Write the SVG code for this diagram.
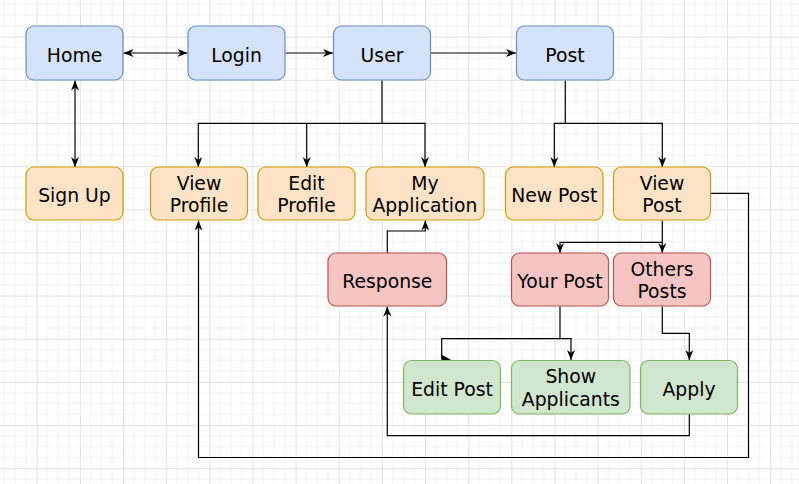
<svg xmlns="http://www.w3.org/2000/svg" width="799" height="484" viewBox="0 0 799 484">
<defs>
  <pattern id="grid" patternUnits="userSpaceOnUse" x="36.7" y="36.7" width="43.15" height="43.15">
    <path d="M10.79 0V43.15M21.58 0V43.15M32.36 0V43.15M0 10.79H43.15M0 21.58H43.15M0 32.36H43.15" stroke="#f1f1f1" stroke-width="1" fill="none"/>
    <path d="M0.5 0V43.15M0 0.5H43.15" stroke="#e2e2e2" stroke-width="1" fill="none"/>
  </pattern>
  <marker id="arr" markerUnits="userSpaceOnUse" markerWidth="10" markerHeight="9" viewBox="0 0 10 8" refX="10" refY="4" orient="auto-start-reverse">
    <path d="M0,0 L10,4 L0,8 L3,4 Z" fill="#000"/>
  </marker>
  <style>
    .box{stroke-width:1.2}
    .blue{fill:#d4e3fa;stroke:#6c8ebf}
    .orange{fill:#ffe3c6;stroke:#d79b00}
    .red{fill:#f6c5c3;stroke:#b85450}
    .green{fill:#d0e6cf;stroke:#82b366}
    text{font-family:"DejaVu Sans","Verdana",sans-serif;font-size:18.8px;fill:#000;text-anchor:middle}
    .c{fill:none;stroke:#000;stroke-width:1.2}
  </style>
</defs>
<rect width="799" height="484" fill="#fff"/>
<rect width="799" height="484" fill="url(#grid)"/>

<g id="connectors">
  <path class="c" d="M123.5 53H187.5" marker-start="url(#arr)" marker-end="url(#arr)"/>
  <path class="c" d="M285.5 53H333" marker-end="url(#arr)"/>
  <path class="c" d="M431 53H516" marker-end="url(#arr)"/>
  <path class="c" d="M75 80.5V167" marker-start="url(#arr)" marker-end="url(#arr)"/>
  <path class="c" d="M382 80.5V123.3H198.3V167" marker-end="url(#arr)"/>
  <path class="c" d="M306.7 123.3V167" marker-end="url(#arr)"/>
  <path class="c" d="M382 123.3H425V167" marker-end="url(#arr)"/>
  <path class="c" d="M565.3 80.5V123.3H554.3V167" marker-end="url(#arr)"/>
  <path class="c" d="M565.3 123.3H662.3V167" marker-end="url(#arr)"/>
  <path class="c" d="M662.3 220.5V242.3H560V253" marker-end="url(#arr)"/>
  <path class="c" d="M662.3 242.3V253" marker-end="url(#arr)"/>
  <path class="c" d="M711 193.3H748.5V457.5H198.5V220.5" marker-end="url(#arr)"/>
  <path class="c" d="M560 306.5V338.7H571V360" marker-end="url(#arr)"/>
  <path class="c" d="M560 338.7H441.7V359"/>
  <path d="M441.5 354.5L452 360.5L441.5 361Z" fill="#000"/>
  <path class="c" d="M662.3 306.5V333.3H689.3V360" marker-end="url(#arr)"/>
  <path class="c" d="M689.3 414V435.7H387.3V306.5" marker-end="url(#arr)"/>
  <path class="c" d="M387.3 253V231H425.3V220.5" marker-end="url(#arr)"/>
</g>

<g id="home"><rect class="box blue" x="26" y="26" width="97" height="54" rx="8"/><text x="74.5" y="61.7">Home</text></g>
<g id="login"><rect class="box blue" x="188" y="26" width="97" height="54" rx="8"/><text x="236.5" y="61.7">Login</text></g>
<g id="user"><rect class="box blue" x="333.5" y="26" width="97" height="54" rx="8"/><text x="382" y="61.7">User</text></g>
<g id="post"><rect class="box blue" x="516.5" y="26" width="97" height="54" rx="8"/><text x="565" y="61.7">Post</text></g>

<g id="signup"><rect class="box orange" x="26" y="167" width="97" height="53" rx="8"/><text x="74.5" y="202">Sign Up</text></g>
<g id="viewprofile"><rect class="box orange" x="150.5" y="167" width="97" height="53" rx="8"/><text x="199" y="189.5">View</text><text x="199" y="212">Profile</text></g>
<g id="editprofile"><rect class="box orange" x="258" y="167" width="97" height="53" rx="8"/><text x="306.5" y="189.5">Edit</text><text x="306.5" y="212">Profile</text></g>
<g id="myapplication"><rect class="box orange" x="366" y="167" width="118" height="53" rx="8"/><text x="425" y="189.5">My</text><text x="425" y="212">Application</text></g>
<g id="newpost"><rect class="box orange" x="505.5" y="167" width="97.5" height="53" rx="8"/><text x="554.3" y="202">New Post</text></g>
<g id="viewpost"><rect class="box orange" x="613.5" y="167" width="97" height="53" rx="8"/><text x="662" y="189.5">View</text><text x="662" y="212">Post</text></g>

<g id="response"><rect class="box red" x="328" y="253" width="118.5" height="53" rx="8"/><text x="387.3" y="288">Response</text></g>
<g id="yourpost"><rect class="box red" x="511.5" y="253" width="97" height="53" rx="8"/><text x="560" y="288">Your Post</text></g>
<g id="otherposts"><rect class="box red" x="613.5" y="253" width="97" height="53" rx="8"/><text x="662" y="275.7">Others</text><text x="662" y="298.3">Posts</text></g>

<g id="editpost"><rect class="box green" x="403.5" y="360.5" width="97" height="53.5" rx="8"/><text x="452" y="395.5">Edit Post</text></g>
<g id="showapplicants"><rect class="box green" x="511.5" y="360.5" width="118.5" height="53.5" rx="8"/><text x="570.8" y="383">Show</text><text x="570.8" y="405.5">Applicants</text></g>
<g id="apply"><rect class="box green" x="640.5" y="360.5" width="97" height="53.5" rx="8"/><text x="689" y="395.5">Apply</text></g>
</svg>
